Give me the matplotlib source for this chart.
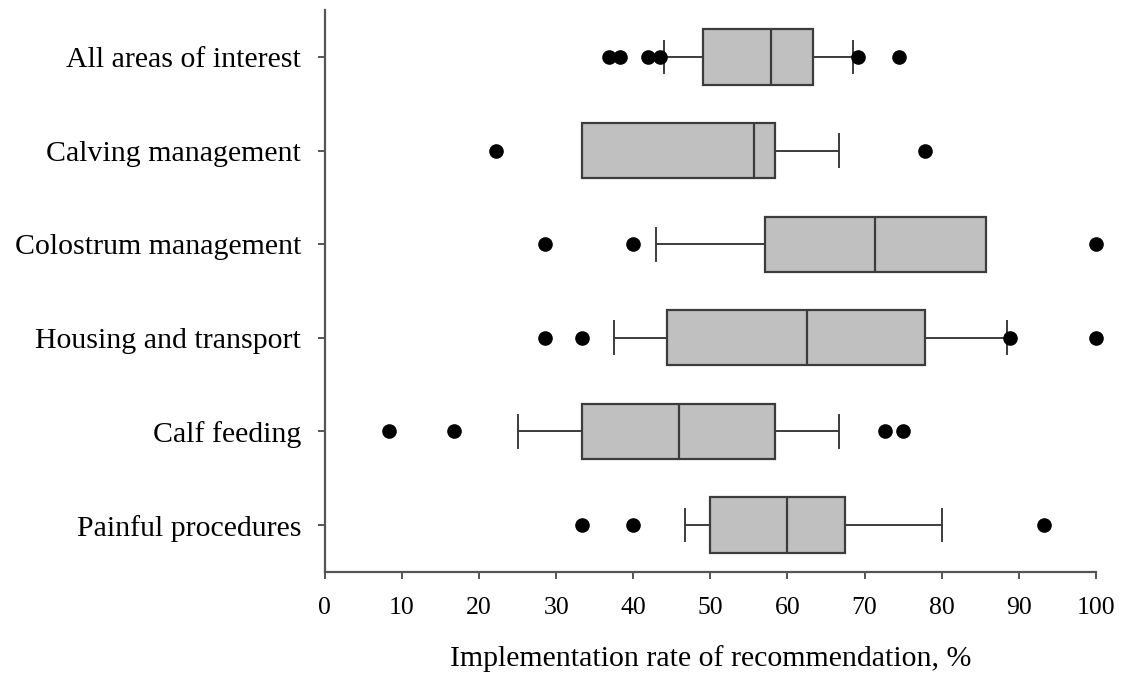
import matplotlib
matplotlib.use('Agg')
import matplotlib.pyplot as plt

# data
categories = ['All areas of interest', 'Calving management', 'Colostrum management',
              'Housing and transport', 'Calf feeding', 'Painful procedures']
whislo = [44.0, 33.3, 42.9, 37.5, 25.0, 46.7]
q1 = [49.0, 33.3, 57.1, 44.4, 33.3, 50.0]
med = [57.8, 55.6, 71.4, 62.5, 45.9, 60.0]
q3 = [63.3, 58.4, 85.7, 77.8, 58.4, 67.5]
whishi = [68.5, 66.7, 85.7, 88.5, 66.7, 80.0]
fliers = [
    [36.8, 38.3, 41.9, 43.5, 69.2, 74.5],
    [22.2, 77.8],
    [28.6, 40.0, 100.0],
    [28.6, 33.3, 88.9, 100.0],
    [8.3, 16.7, 72.7, 75.0],
    [33.3, 40.0, 93.3],
]
xticks = list(range(0, 101, 10))

plt.rcParams['font.family'] = ['Liberation Serif', 'DejaVu Serif']

stats = []
for i, name in enumerate(categories):
    stats.append({'label': name, 'whislo': whislo[i], 'q1': q1[i], 'med': med[i],
                  'q3': q3[i], 'whishi': whishi[i], 'fliers': fliers[i]})

n = len(categories)
positions = [n - i for i in range(n)]  # first category on top

fig = plt.figure(figsize=(11.24, 6.84), dpi=100)
ax = fig.add_axes([0.289, 0.164, 0.686, 0.821])

edge = '#3c3c3c'
parts = ax.bxp(stats, positions=positions, vert=False, widths=0.59, capwidths=0.35,
               patch_artist=True, showfliers=True,
               boxprops=dict(facecolor='#c0c0c0', edgecolor=edge, linewidth=1.6),
               medianprops=dict(color=edge, linewidth=1.6),
               whiskerprops=dict(color=edge, linewidth=1.4),
               capprops=dict(color=edge, linewidth=1.4),
               flierprops=dict(marker='o', markerfacecolor='black', markeredgecolor='black',
                               markersize=9.5, linestyle='none'))
for f in parts['fliers']:
    f.set_clip_on(False)

ax.set_xlim(0, 100)
ax.set_ylim(0.5, n + 0.5)
ax.set_xticks(xticks)
ax.set_xticklabels([str(t) for t in xticks])
ax.set_yticks(positions)
ax.set_yticklabels(categories)

for s in ['top', 'right']:
    ax.spines[s].set_visible(False)
for s in ['left', 'bottom']:
    ax.spines[s].set_color('#555555')
    ax.spines[s].set_linewidth(1.6)

ax.tick_params(axis='x', labelsize=18.5, length=5, width=1.4, color='#555555', pad=13)
ax.tick_params(axis='y', labelsize=21.5, length=5, width=1.4, color='#555555', pad=12)
ax.set_xlabel('Implementation rate of recommendation, %', fontsize=21.5, labelpad=19)

fig.savefig('out.png', dpi=100)
